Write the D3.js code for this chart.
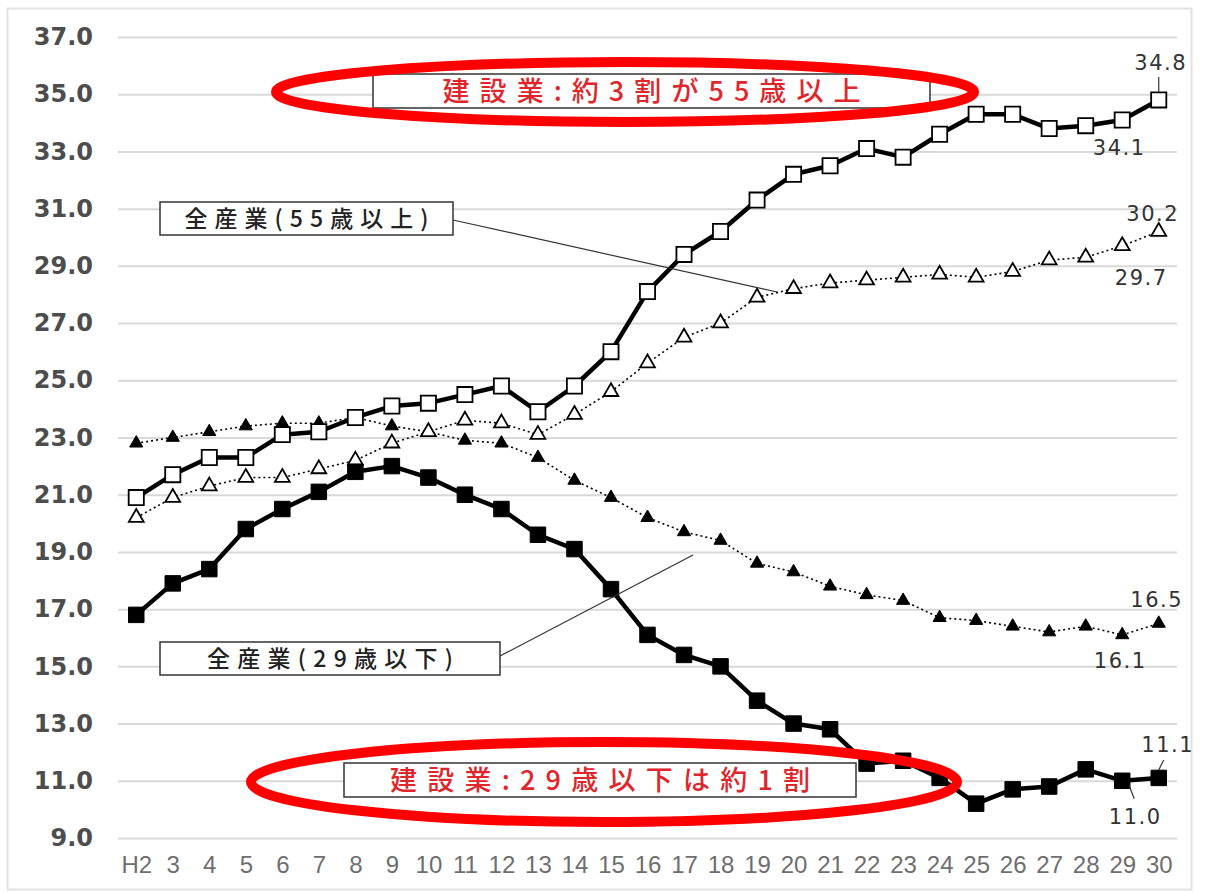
<!DOCTYPE html>
<html>
<head>
<meta charset="utf-8">
<script src="https://cdn.jsdelivr.net/npm/d3@7"></script>
<style>
  body { margin: 0; background: #fff; }
  svg { display: block; }
  .yAxis text { font-family: "DejaVu Sans", sans-serif; font-size: 24px; font-weight: bold; fill: #4d4d4d; }
  .xAxis text { font-family: "Liberation Sans", Arial, sans-serif; font-size: 24px; fill: #6e6e6e; }
  .valLabel { font-family: "DejaVu Sans", sans-serif; font-size: 21px; fill: #333; letter-spacing: 1.5px; }
  .boxText { font-family: "Noto Sans CJK JP", sans-serif; font-weight: 500; }
</style>
</head>
<body>
<div id="chart"><svg width="1207" height="893"></svg></div>
<script>
// categories (heisei years)
const years = ["H2","3","4","5","6","7","8","9","10","11","12","13","14","15","16","17","18","19","20","21","22","23","24","25","26","27","28","29","30"];

// 建設業 55歳以上
const con55 = [20.9,21.7,22.3,22.3,23.1,23.2,23.7,24.1,24.2,24.5,24.8,23.9,24.8,26.0,28.1,29.4,30.2,31.3,32.2,32.5,33.1,32.8,33.6,34.3,34.3,33.8,33.9,34.1,34.8];
// 全産業 55歳以上
const all55 = [20.2,20.9,21.3,21.6,21.6,21.9,22.2,22.8,23.2,23.6,23.5,23.1,23.8,24.6,25.6,26.5,27.0,27.9,28.2,28.4,28.5,28.6,28.7,28.6,28.8,29.2,29.3,29.7,30.2];
// 全産業 29歳以下
const all29 = [22.8,23.0,23.2,23.4,23.5,23.5,23.7,23.4,23.2,22.9,22.8,22.3,21.5,20.9,20.2,19.7,19.4,18.6,18.3,17.8,17.5,17.3,16.7,16.6,16.4,16.2,16.4,16.1,16.5];
// 建設業 29歳以下
const con29 = [16.8,17.9,18.4,19.8,20.5,21.1,21.8,22.0,21.6,21.0,20.5,19.6,19.1,17.7,16.1,15.4,15.0,13.8,13.0,12.8,11.6,11.7,11.1,10.2,10.7,10.8,11.4,11.0,11.1];

const yTicks = [9,11,13,15,17,19,21,23,25,27,29,31,33,35,37];

const svg = d3.select("#chart").select("svg");

// outer frame
svg.append("rect")
	.attr("x", 7.5).attr("y", 8.5)
	.attr("width", 1184).attr("height", 881)
	.attr("fill", "none")
	.attr("stroke", "#e2e2e2")
	.attr("stroke-width", 2);

const xScale = d3.scalePoint()
	.domain(years)
	.range([118, 1177])
	.padding(0.5);

const yScale = d3.scaleLinear()
	.domain([9, 37])
	.range([838, 37]);

// grid
svg.append("g")
	.attr("class", "yGrid")
	.attr("transform", "translate(118,0)")
	.call(d3.axisLeft(yScale).tickValues(yTicks).tickFormat("").tickSize(-(1177 - 118)))
	.call(g => g.select(".domain").remove())
	.call(g => g.selectAll("line").attr("stroke", "#d9d9d9").attr("stroke-width", 2));

// y axis
svg.append("g")
	.attr("class", "yAxis")
	.attr("transform", "translate(93,0)")
	.call(d3.axisLeft(yScale).tickValues(yTicks).tickFormat(d3.format(".1f")).tickSize(0).tickPadding(0))
	.call(g => g.select(".domain").remove());

// x axis
svg.append("g")
	.attr("class", "xAxis")
	.attr("transform", "translate(0,873)")
	.call(d3.axisBottom(xScale).tickSize(0))
	.call(g => g.select(".domain").remove())
	.call(g => g.selectAll("text").attr("y", 0).attr("dy", 0));

const plot = svg.append("g");

function drawSeries(values, opts) {
	const pts = values.map((v, i) => ({x: xScale(years[i]), y: yScale(v)}));
	const line = d3.line().x(d => d.x).y(d => d.y);
	plot.append("path")
		.datum(pts)
		.attr("fill", "none")
		.attr("stroke", "#000")
		.attr("stroke-width", opts.width)
		.attr("stroke-dasharray", opts.dash)
		.attr("stroke-linejoin", "round")
		.attr("d", line);
	const sym = d3.symbol().type(opts.shape).size(opts.size);
	plot.selectAll(null)
		.data(pts)
		.join("path")
		.attr("transform", d => `translate(${d.x},${d.y})`)
		.attr("d", sym)
		.attr("fill", opts.fill)
		.attr("stroke", "#000")
		.attr("stroke-width", opts.strokeW);
}

drawSeries(all29, {width: 1.6, dash: "2,3", shape: d3.symbolTriangle, size: 75, fill: "#000", strokeW: 1});
drawSeries(all55, {width: 1.6, dash: "2,3", shape: d3.symbolTriangle, size: 95, fill: "#fff", strokeW: 1.8});
drawSeries(con29, {width: 4.5, dash: null, shape: d3.symbolSquare, size: 240, fill: "#000", strokeW: 1});
drawSeries(con55, {width: 4.5, dash: null, shape: d3.symbolSquare, size: 230, fill: "#fff", strokeW: 1.8});

// end value labels
const last = years.length - 1;
const endLabels = [
	{v: con55[last], i: last, dx: 2, dy: -30, tick: [-23, -8]},
	{v: con55[last - 1], i: last - 1, dx: -3, dy: 35},
	{v: all55[last], i: last, dx: -6, dy: -11},
	{v: all55[last - 1], i: last - 1, dx: 19, dy: 39},
	{v: all29[last], i: last, dx: -2, dy: -16},
	{v: all29[last - 1], i: last - 1, dx: -2, dy: 33},
	{v: con29[last], i: last, dx: 9, dy: -26, tick: [-18, -8], tx: [5, 0]},
	{v: con29[last - 1], i: last - 1, dx: 13, dy: 43, tick: [5, 18], tx: [7, 12]}
];
endLabels.forEach(d => {
	const x = xScale(years[d.i]);
	const y = yScale(d.v);
	svg.append("text")
		.attr("class", "valLabel")
		.attr("x", x + d.dx)
		.attr("y", y + d.dy)
		.attr("text-anchor", "middle")
		.text(d3.format(".1f")(d.v));
	if (d.tick) {
		const tx = d.tx || [0, 0];
		svg.append("line")
			.attr("x1", x + tx[0]).attr("y1", y + d.tick[0])
			.attr("x2", x + tx[1]).attr("y2", y + d.tick[1])
			.attr("stroke", "#333").attr("stroke-width", 1.2);
	}
});

// callout boxes
function callout(x, y, w, h, text, color, size, len) {
	svg.append("rect")
		.attr("x", x).attr("y", y).attr("width", w).attr("height", h)
		.attr("fill", "#fff").attr("stroke", "#333").attr("stroke-width", 1.5);
	svg.append("text")
		.attr("class", "boxText")
		.attr("x", x + w / 2 - len / 2).attr("y", y + h / 2)
		.attr("dy", "0.36em")
		.attr("font-size", size)
		.attr("textLength", len)
		.attr("lengthAdjust", "spacing")
		.attr("fill", color)
		.text(text);
}

// leader lines for 全産業 boxes
svg.append("line").attr("x1", 453).attr("y1", 220).attr("x2", 777).attr("y2", 292)
	.attr("stroke", "#333").attr("stroke-width", 1.2);
svg.append("line").attr("x1", 500).attr("y1", 656).attr("x2", 693).attr("y2", 555)
	.attr("stroke", "#333").attr("stroke-width", 1.2);

callout(160, 202, 293, 33, "全産業(55歳以上)", "#222", 23, 244);
callout(160, 642, 340, 33, "全産業(29歳以下)", "#222", 23, 246);
callout(373, 74, 557, 34, "建設業:約3割が55歳以上", "#e0262b", 27, 418);
callout(344, 763, 512, 34, "建設業:29歳以下は約1割", "#e0262b", 27, 420);

// red ellipses
svg.append("ellipse").attr("cx", 625).attr("cy", 92).attr("rx", 349).attr("ry", 30)
	.attr("fill", "none").attr("stroke", "#ff0000").attr("stroke-width", 10);
svg.append("ellipse").attr("cx", 604).attr("cy", 782).attr("rx", 353).attr("ry", 40)
	.attr("fill", "none").attr("stroke", "#ff0000").attr("stroke-width", 10);
</script>
</body>
</html>
